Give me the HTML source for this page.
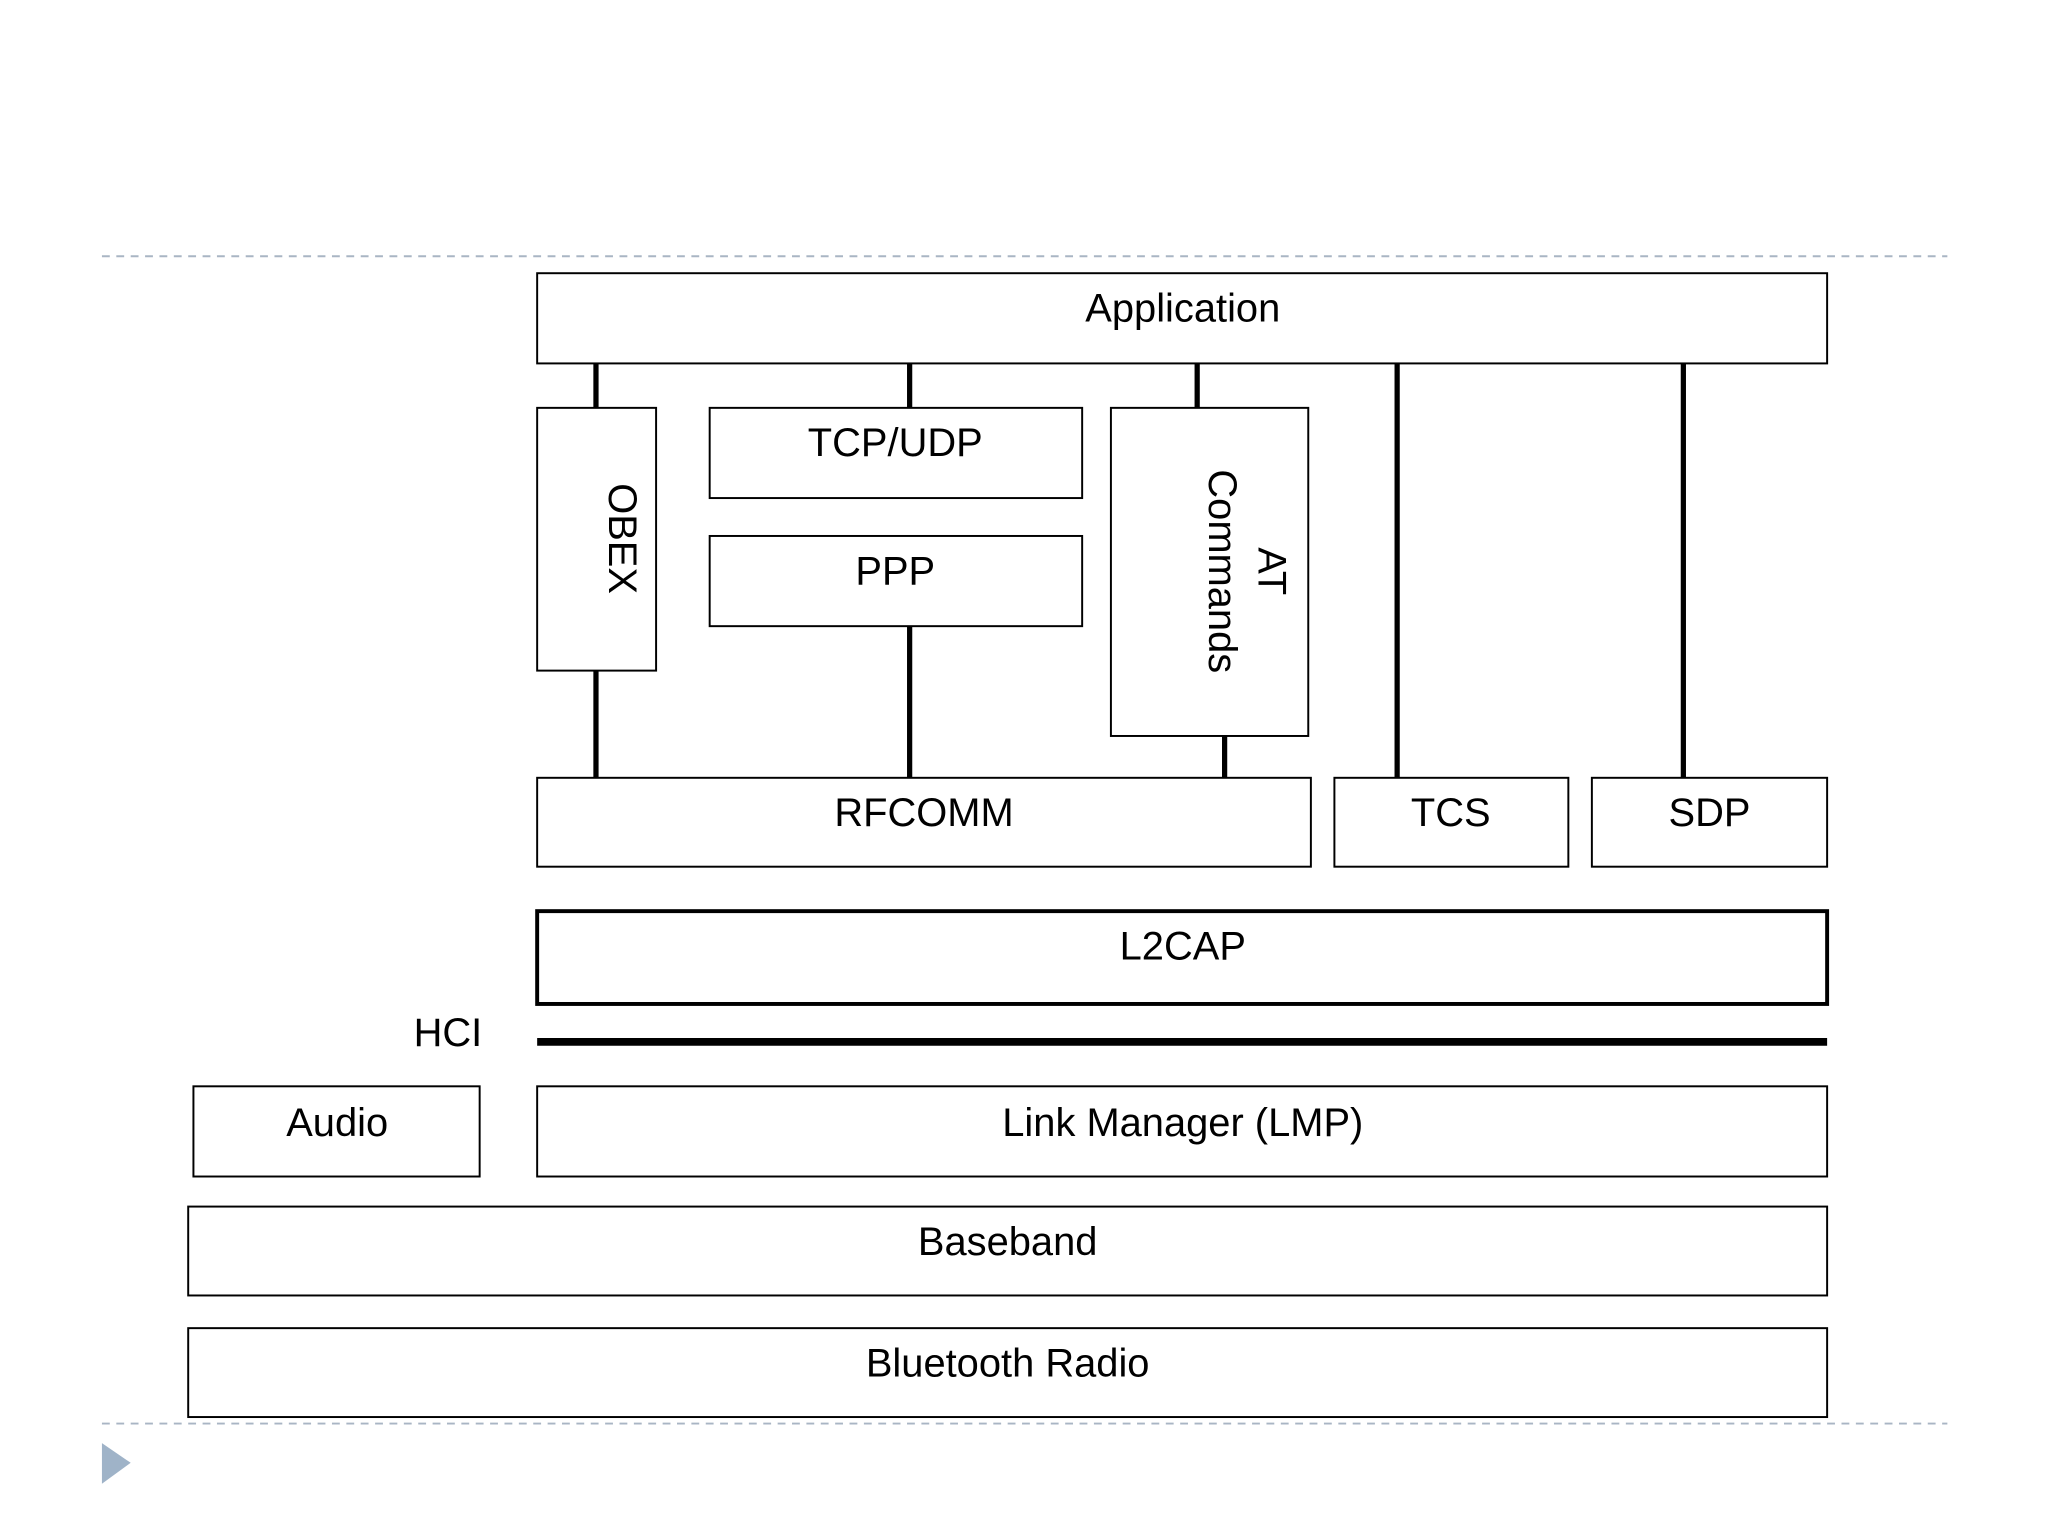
<!DOCTYPE html>
<html><head><meta charset="utf-8"><style>
html,body{margin:0;padding:0;background:#fff;}
svg{display:block;}
text{font-family:"Liberation Sans",sans-serif;font-size:30.5px;fill:#000;}
</style></head><body>
<svg width="2048" height="1536" viewBox="0 0 1567 1175" preserveAspectRatio="none" xmlns="http://www.w3.org/2000/svg">
<g stroke="#a9b5c4" stroke-width="1.5" stroke-dasharray="6,5">
<line x1="78" y1="196" x2="1490" y2="196"/>
<line x1="78" y1="1089" x2="1490" y2="1089"/>
</g>
<polygon points="78,1104 100,1119 78,1135" fill="#9fb3c8"/>
<g stroke="#000" stroke-width="4">
<line x1="456" y1="278" x2="456" y2="312"/>
<line x1="696" y1="278" x2="696" y2="312"/>
<line x1="916" y1="278" x2="916" y2="312"/>
<line x1="1069" y1="278" x2="1069" y2="595"/>
<line x1="1288" y1="278" x2="1288" y2="595"/>
<line x1="456" y1="513" x2="456" y2="595"/>
<line x1="696" y1="479" x2="696" y2="595"/>
<line x1="937" y1="563" x2="937" y2="595"/>
</g>
<g fill="#fff" stroke="#000" stroke-width="1.5">
<rect x="411" y="209" width="987" height="69"/>
<rect x="411" y="312" width="91" height="201"/>
<rect x="543" y="312" width="285" height="69"/>
<rect x="543" y="410" width="285" height="69"/>
<rect x="850" y="312" width="151" height="251"/>
<rect x="411" y="595" width="592" height="68"/>
<rect x="1021" y="595" width="179" height="68"/>
<rect x="1218" y="595" width="180" height="68"/>
<rect x="411" y="697" width="987" height="71" stroke-width="3"/>
<rect x="148" y="831" width="219" height="69"/>
<rect x="411" y="831" width="987" height="69"/>
<rect x="144" y="923" width="1254" height="68"/>
<rect x="144" y="1016" width="1254" height="68"/>
</g>
<line x1="411" y1="797" x2="1398" y2="797" stroke="#000" stroke-width="6"/>
<g text-anchor="middle">
<text x="905" y="246">Application</text>
<text x="685" y="349">TCP/UDP</text>
<text x="685" y="447">PPP</text>
<text x="707" y="632">RFCOMM</text>
<text x="1110" y="632">TCS</text>
<text x="1308" y="632">SDP</text>
<text x="905" y="734">L2CAP</text>
<text x="258" y="869">Audio</text>
<text x="905" y="869">Link Manager (LMP)</text>
<text x="771" y="960">Baseband</text>
<text x="771" y="1053">Bluetooth Radio</text>
<text transform="translate(466,412) rotate(90)">OBEX</text>
<text transform="translate(963,437) rotate(90)">AT</text>
<text transform="translate(925,437) rotate(90)">Commands</text>
</g>
<text x="369" y="800" text-anchor="end">HCI</text>
</svg>
</body></html>
